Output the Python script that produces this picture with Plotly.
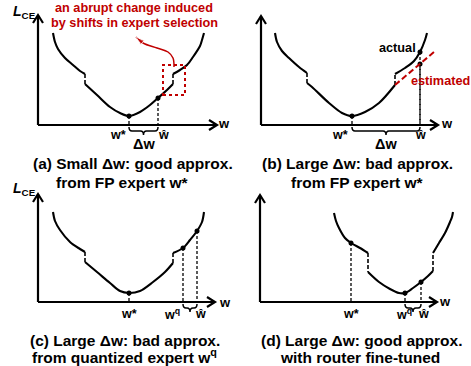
import plotly.graph_objects as go

FONT = "Liberation Sans"
BLACK = "#000000"
RED = "#C00000"

# ---------------- data (local units: w along the axis, L_CE above it) ----------------
# Panel (a)
a_seg1_w = [15, 17, 20, 27, 35, 42, 47]
a_seg1_L = [92, 83, 76, 67, 60, 54, 51]
a_seg2_w = [47, 59, 72, 82, 91, 102, 112, 120, 129, 135]
a_seg2_L = [41, 30, 18, 12, 9, 13, 20, 27, 35, 41]
a_seg3_w = [135, 142, 149, 155, 162, 164, 166]
a_seg3_L = [51, 55, 60, 68, 79, 85, 92]
a_point_w = [91, 120]
a_point_L = [9, 27]
a_labels = ["w*", "ŵ"]
a_label_w = [80, 125]
a_brace = [91, 120]
a_box_w = [125, 147]
a_box_L = [30, 60]
a_arrow_w = [136, 135, 130, 119, 105, 98]
a_arrow_L = [58, 67, 73, 77, 82, 88]
a_note = ["an abrupt change induced", "by shifts in expert selection"]
a_caption = ["(a) Small Δw: good approx.", "from FP expert w*"]

# Panel (b)
b_seg1_w = [14, 16, 21, 28, 38, 46]
b_seg1_L = [92, 83, 74, 67, 58, 52]
b_seg2_w = [46, 51, 68, 81, 91, 104, 118, 134]
b_seg2_L = [42, 38, 22, 12, 9, 13, 22, 40]
b_seg3_w = [134, 144, 153, 159, 164, 166]
b_seg3_L = [51, 57, 64, 73, 85, 92]
b_est_w = [134, 173]
b_est_L = [40, 73]
b_point_w = [91, 159, 159]
b_point_L = [9, 73, 61]
b_labels = ["w*", "ŵ"]
b_label_w = [79, 159.5]
b_brace = [91, 159]
b_caption = ["(b) Large Δw: bad approx.", "from FP expert w*"]

# Panel (c)
c_seg1_w = [15, 17, 22, 32, 42, 47]
c_seg1_L = [90, 81, 72, 60, 53, 50]
c_seg2_w = [47, 59, 72, 82, 91, 102, 115, 127, 135]
c_seg2_L = [40, 30, 19, 11, 9, 11, 20, 30, 39]
c_seg3_w = [135, 145, 152, 159, 164, 166]
c_seg3_L = [49, 54, 62, 71, 80, 90]
c_point_w = [91, 145, 159]
c_point_L = [9, 54, 71]
c_labels = ["w*", "w<sup>q</sup>", "ŵ"]
c_label_w = [91, 134, 162]
c_brace = [145, 159]
c_caption = ["(c) Large Δw: bad approx.", "from quantized expert w<sup>q</sup>"]

# Panel (d)
d_seg1_w = [74, 76, 79, 85, 91, 100, 108]
d_seg1_L = [89, 81, 74, 64, 59, 54, 49]
d_seg2_w = [108, 119, 130, 139, 145, 153, 161, 168, 173]
d_seg2_L = [30, 20, 13, 9, 9, 14, 20, 26, 31]
d_seg3_w = [173, 179, 185, 190, 192, 193]
d_seg3_L = [49, 59, 69, 80, 85, 90]
d_point_w = [91, 145, 161]
d_point_L = [59, 9, 20]
d_labels = ["w*", "w<sup>q</sup>", "ŵ"]
d_label_w = [91, 144, 163]
d_brace = [145, 161]
d_caption = ["(d) Large Δw: good approx.", "with router fine-tuned"]

# ---------------- layout of the four panels ----------------
panels = [
    dict(ax="", dom_x=[0, 0.5], dom_y=[0.5, 1], xr=[-38, 197.5], yr=[-58, 125],
         ytip=110, xtip=179, lce=(-27, 113), wlab=(186, 2), lab_L=-10,
         cap=((94.5, -38), (84, -57)),
         segs=[(a_seg1_w, a_seg1_L), (a_seg2_w, a_seg2_L), (a_seg3_w, a_seg3_L)],
         pts=(a_point_w, a_point_L), labels=(a_labels, a_label_w), brace=a_brace,
         delta=True, caption=a_caption),
    dict(ax="2", dom_x=[0.5, 1], dom_y=[0.5, 1], xr=[-25.5, 210], yr=[-58, 125],
         ytip=109, xtip=177, lce=(-28, 113), wlab=(186, 2), lab_L=-10,
         cap=((96.5, -38), (95.5, -57)),
         segs=[(b_seg1_w, b_seg1_L), (b_seg2_w, b_seg2_L), (b_seg3_w, b_seg3_L)],
         pts=(b_point_w, b_point_L), labels=(b_labels, b_label_w), brace=b_brace,
         delta=True, caption=b_caption),
    dict(ax="3", dom_x=[0, 0.5], dom_y=[0, 0.5], xr=[-38, 197.5], yr=[-64, 119],
         ytip=108, xtip=177, lce=(-27, 113), wlab=(187, 0), lab_L=-12,
         cap=((87, -38.5), (86, -53.5)),
         segs=[(c_seg1_w, c_seg1_L), (c_seg2_w, c_seg2_L), (c_seg3_w, c_seg3_L)],
         pts=(c_point_w, c_point_L), labels=(c_labels, c_label_w), brace=c_brace,
         delta=False, caption=c_caption),
    dict(ax="4", dom_x=[0.5, 1], dom_y=[0, 0.5], xr=[-24.5, 211], yr=[-64, 119],
         ytip=107, xtip=177, lce=(-25, 109), wlab=(185, 1), lab_L=-12,
         cap=((101, -38.5), (100, -55.5)),
         segs=[(d_seg1_w, d_seg1_L), (d_seg2_w, d_seg2_L), (d_seg3_w, d_seg3_L)],
         pts=(d_point_w, d_point_L), labels=(d_labels, d_label_w), brace=d_brace,
         delta=False, caption=d_caption),
]

fig = go.Figure()
annotations = []
shapes = []


def line(xs, ys, ax, color=BLACK, width=2.0, dash=None, spline=False):
    fig.add_trace(go.Scatter(
        x=xs, y=ys, mode="lines", xaxis="x" + ax, yaxis="y" + ax,
        line=dict(color=color, width=width, dash=dash,
                  shape="spline" if spline else "linear", smoothing=0.9),
        hoverinfo="skip", showlegend=False))


def text(t, x, y, ax, size=11, color=BLACK, xanchor="center", yanchor="middle"):
    annotations.append(dict(
        text="<b>" + t + "</b>", x=x, y=y, xref="x" + ax, yref="y" + ax,
        showarrow=False, xanchor=xanchor, yanchor=yanchor,
        font=dict(family=FONT, size=size, color=color)))


def brace_path(x1, x2, y0=-2.0, y1=-6.0, y2=-10.0, r=3.0):
    xm = (x1 + x2) / 2
    return (f"M {x1},{y0} Q {x1},{y1} {x1 + r},{y1} L {xm - r},{y1} "
            f"Q {xm},{y1} {xm},{y2} Q {xm},{y1} {xm + r},{y1} "
            f"L {x2 - r},{y1} Q {x2},{y1} {x2},{y0}")


for p in panels:
    ax = p["ax"]
    # axes with open arrow heads
    line([0, 0], [0, p["ytip"]], ax, width=2.2)
    line([0, p["xtip"]], [0, 0], ax, width=2.2)
    line([-5, 0, 5], [p["ytip"] - 8, p["ytip"], p["ytip"] - 8], ax, width=2.2)
    line([p["xtip"] - 8, p["xtip"], p["xtip"] - 8], [5, 0, -5], ax, width=2.2)
    # curve pieces and jumps between them
    segs = p["segs"]
    for i, (w, L) in enumerate(segs):
        line(w, L, ax, width=2.1, spline=True)
        if i + 1 < len(segs):
            nw, nL = segs[i + 1]
            line([w[-1], nw[0]], [L[-1], nL[0]], ax, width=1.6, dash="4px,2px")
    # drop lines to axis
    pw, pL = p["pts"]
    for xw, yl in zip(pw, pL):
        line([xw, xw], [yl, 0], ax, width=1.3, dash="3px,2px")
    fig.add_trace(go.Scatter(x=pw, y=pL, mode="markers", xaxis="x" + ax, yaxis="y" + ax,
                             marker=dict(color=BLACK, size=5), hoverinfo="skip",
                             showlegend=False))
    # brace
    shapes.append(dict(type="path", path=brace_path(*p["brace"]), xref="x" + ax,
                       yref="y" + ax, line=dict(color=BLACK, width=1.5)))
    # texts
    lt, lw = p["labels"]
    for t, xw in zip(lt, lw):
        text(t, xw, p["lab_L"], ax, size=12.5)
    if p["delta"]:
        text("Δw", sum(p["brace"]) / 2, -19, ax, size=14.5)
    text("<i>L</i><sub>CE</sub>", p["lce"][0], p["lce"][1], ax, size=14, xanchor="left")
    text("w", p["wlab"][0], p["wlab"][1], ax, size=13)
    (cx1, cy1), (cx2, cy2) = p["cap"]
    text(p["caption"][0], cx1, cy1, ax, size=15.5)
    text(p["caption"][1], cx2, cy2, ax, size=15.5)

# panel (a) note: box, arrow and text
shapes.append(dict(type="rect", x0=a_box_w[0], x1=a_box_w[1], y0=a_box_L[0], y1=a_box_L[1],
                   xref="x", yref="y", line=dict(color=RED, width=2, dash="dot")))
fig.add_trace(go.Scatter(
    x=a_arrow_w, y=a_arrow_L, mode="lines+markers", xaxis="x", yaxis="y",
    line=dict(color=RED, width=1.5, shape="spline"),
    marker=dict(symbol="arrow", angleref="previous", color=RED,
                size=[0] * (len(a_arrow_w) - 1) + [9]),
    hoverinfo="skip", showlegend=False))
text(a_note[0], 96, 117, "", size=12.7, color=RED)
text(a_note[1], 96, 102, "", size=12.7, color=RED)

# panel (b): estimated line + labels
line(b_est_w, b_est_L, "2", color=RED, width=2, dash="6px,3px")
text("actual", 136, 77, "2", size=12.7)
text("estimated", 179, 44, "2", size=12.7, color=RED)

axis_common = dict(visible=False, showgrid=False, zeroline=False, fixedrange=True)
layout = dict(width=471, height=366, margin=dict(l=0, r=0, t=0, b=0),
              paper_bgcolor="white", plot_bgcolor="white",
              annotations=annotations, shapes=shapes)
for p in panels:
    ax = p["ax"]
    layout["xaxis" + ax] = dict(domain=p["dom_x"], range=p["xr"], anchor="y" + ax, **axis_common)
    layout["yaxis" + ax] = dict(domain=p["dom_y"], range=p["yr"], anchor="x" + ax, **axis_common)
fig.update_layout(**layout)
fig.write_html("out.html")
